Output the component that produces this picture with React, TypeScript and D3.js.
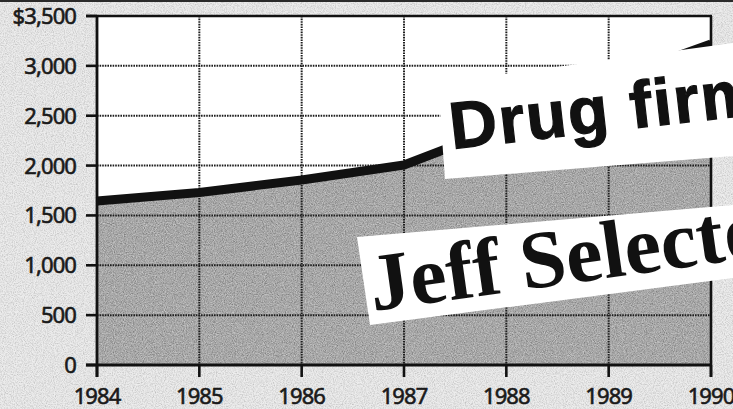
import React from "react";
import * as d3 from "d3";

const years = [1984, 1985, 1986, 1987, 1988, 1989, 1990];
const values = [1645, 1730, 1855, 2006, 2400, 2850, 3220];
const yTicks = [0, 500, 1000, 1500, 2000, 2500, 3000, 3500];
const yTickLabels = ["0", "500", "1,000", "1,500", "2,000", "2,500", "3,000", "$3,500"];
const xTickLabels = ["1984", "1985", "1986", "1987", "1988", "1989", "1990"];
const clipTop = "Drug firm";
const clipBottom = "Jeff Selector";

const W = 733;
const H = 409;

export default function App() {
  const x = d3.scaleLinear().domain([1984, 1990]).range([97, 711]);
  const y = d3.scaleLinear().domain([0, 3500]).range([365, 16]);
  const pts: [number, number][] = years.map((yr, i) => [yr, values[i]]);
  const area = d3
    .area<[number, number]>()
    .x((d) => x(d[0]))
    .y0(y(0))
    .y1((d) => y(d[1]))(pts) as string;
  const line = d3
    .line<[number, number]>()
    .x((d) => x(d[0]))
    .y((d) => y(d[1]))(pts) as string;

  const font = "'Noto Sans', 'DejaVu Sans', sans-serif";
  const x0 = x(1984);
  const x1 = x(1990);
  const yTop = y(3500);
  const yBot = y(0);

  const labelStyle = {
    fontFamily: font,
    fontSize: 22,
    fill: "#1a1a1a",
    stroke: "#1a1a1a",
    strokeWidth: 0.6,
    letterSpacing: -0.9,
  } as const;

  return (
    <svg
      width={W}
      height={H}
      viewBox={`0 0 ${W} ${H}`}
      style={{ position: "absolute", left: 0, top: 0, display: "block" }}
    >
      <defs>
        <filter id="noise" x="0" y="0" width="100%" height="100%">
          <feTurbulence type="fractalNoise" baseFrequency="0.9" numOctaves="2" seed="3" result="t" />
          <feColorMatrix
            in="t"
            type="matrix"
            values="0 0 0 0 0  0 0 0 0 0  0 0 0 0 0  1.6 0 0 0 -0.62"
          />
        </filter>
        <filter id="noiseLight" x="0" y="0" width="100%" height="100%">
          <feTurbulence type="fractalNoise" baseFrequency="0.9" numOctaves="2" seed="7" result="t" />
          <feColorMatrix
            in="t"
            type="matrix"
            values="0 0 0 0 1  0 0 0 0 1  0 0 0 0 1  1.6 0 0 0 -0.62"
          />
        </filter>
        <clipPath id="areaClip">
          <path d={area} />
        </clipPath>
      </defs>

      {/* background paper */}
      <rect x={0} y={0} width={W} height={H} fill="#e9e9e9" />
      <rect x={0} y={0} width={W} height={H} filter="url(#noise)" opacity={0.22} />
      <rect x={0} y={0} width={W} height={H} filter="url(#noiseLight)" opacity={0.45} />
      <rect x={0} y={0} width={W} height={2} fill="#2a2a2a" />

      {/* plot area */}
      <rect x={x0} y={yTop} width={x1 - x0} height={yBot - yTop} fill="#ffffff" />
      <path d={area} fill="#a8a8a8" />
      <g clipPath="url(#areaClip)">
        <rect x={x0} y={yTop} width={x1 - x0} height={yBot - yTop} filter="url(#noise)" opacity={0.35} />
        <rect x={x0} y={yTop} width={x1 - x0} height={yBot - yTop} filter="url(#noiseLight)" opacity={0.55} />
      </g>

      {/* grid */}
      {yTicks.slice(1, -1).map((t) => (
        <line
          key={"gy" + t}
          x1={x0}
          x2={x1}
          y1={y(t)}
          y2={y(t)}
          stroke="#1e1e1e"
          strokeWidth={2}
          strokeDasharray="1.6 1"
        />
      ))}
      {years.slice(1, -1).map((yr) => (
        <line
          key={"gx" + yr}
          x1={x(yr)}
          x2={x(yr)}
          y1={yTop}
          y2={yBot}
          stroke="#1e1e1e"
          strokeWidth={2}
          strokeDasharray="1.6 1"
        />
      ))}

      {/* data line */}
      <path d={line} fill="none" stroke="#111" strokeWidth={9} strokeLinejoin="round" />

      {/* frame */}
      <line x1={86} x2={x1 + 1} y1={yTop} y2={yTop} stroke="#111" strokeWidth={2.6} />
      <line x1={x1} x2={x1} y1={yTop} y2={yBot + 12} stroke="#111" strokeWidth={2.6} />
      <line x1={x0} x2={x0} y1={yTop} y2={yBot + 12} stroke="#111" strokeWidth={2.8} />
      <line x1={86} x2={x1} y1={yBot} y2={yBot} stroke="#111" strokeWidth={2.8} />

      {/* ticks */}
      {yTicks.map((t) => (
        <line key={"ty" + t} x1={86} x2={x0} y1={y(t)} y2={y(t)} stroke="#111" strokeWidth={2.6} />
      ))}
      {years.map((yr) => (
        <line key={"tx" + yr} x1={x(yr)} x2={x(yr)} y1={yBot} y2={yBot + 12} stroke="#111" strokeWidth={2.6} />
      ))}

      {/* labels */}
      {yTicks.map((t, i) => (
        <text key={"ly" + t} x={76} y={y(t) + 8} textAnchor="end" {...labelStyle}>
          {yTickLabels[i]}
        </text>
      ))}
      {years.map((yr, i) => (
        <text key={"lx" + yr} x={x(yr)} y={404} textAnchor="middle" {...labelStyle}>
          {xTickLabels[i]}
        </text>
      ))}

      {/* newspaper clippings */}
      <polygon points="438,83 733,43 733,156 445,179" fill="#ffffff" />
      <text
        x={0}
        y={0}
        transform="translate(452,149) rotate(-6.5)"
        fontFamily="'Liberation Sans', Arial, sans-serif"
        fontWeight="bold"
        fontSize={66}
        letterSpacing={1.8}
        fill="#111"
        stroke="#111"
        strokeWidth={1.2}
      >
        {clipTop}
      </text>

      <polygon points="357,237 733,205 733,278 370,325" fill="#ffffff" />
      <text
        x={0}
        y={0}
        transform="translate(373,311) rotate(-8)"
        fontFamily="'Liberation Serif', 'Times New Roman', serif"
        fontWeight="bold"
        fontSize={82}
        fill="#111"
      >
        {clipBottom}
      </text>
    </svg>
  );
}
